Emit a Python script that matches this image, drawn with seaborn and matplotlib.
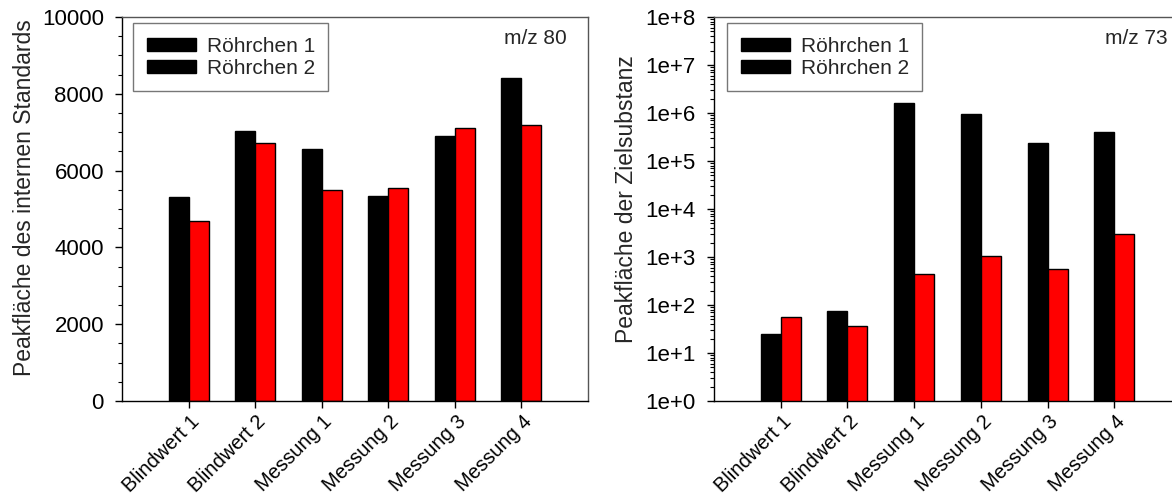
import numpy as np
import pandas as pd
import matplotlib
matplotlib.use("Agg")
import matplotlib.pyplot as plt
import matplotlib.transforms as mtransforms
from matplotlib.patches import Patch
from matplotlib.ticker import MultipleLocator, LogLocator, FuncFormatter, NullFormatter
import seaborn as sns

categories = ["Blindwert 1", "Blindwert 2", "Messung 1", "Messung 2", "Messung 3", "Messung 4"]
series_names = ["Röhrchen 1", "Röhrchen 2"]
mz80_r1 = [5300, 7030, 6570, 5350, 6890, 8400]
mz80_r2 = [4700, 6710, 5490, 5540, 7120, 7200]
mz73_r1 = [25, 76, 1.59e6, 9.5e5, 2.34e5, 4.0e5]
mz73_r2 = [55, 37, 436, 1070, 554, 2970]
ylabel_left = "Peakfläche des internen Standards"
ylabel_right = "Peakfläche der Zielsubstanz"
tag_left = "m/z 80"
tag_right = "m/z 73"

def long_df(a, b):
    return pd.DataFrame({
        "Probe": categories * 2,
        "Röhrchen": [series_names[0]] * len(categories) + [series_names[1]] * len(categories),
        "Wert": list(a) + list(b),
    })

sns.set_theme(style="white")
plt.rcParams["font.family"] = ["Liberation Sans", "DejaVu Sans"]
FS_Y = 16
FS_X = 14.5
FS_LEG = 15
FS_LAB = 16.5

W, H = 1172, 498
fig = plt.figure(figsize=(W / 100, H / 100), dpi=100)
ax1 = fig.add_axes([122 / W, 1 - 401 / H, 466 / W, 384 / H])
ax2 = fig.add_axes([714 / W, 1 - 401 / H, 467 / W, 384 / H])

palette = ["black", "red"]
shift = mtransforms.ScaledTranslation(1 / 100, 2 / 100, fig.dpi_scale_trans)

for ax, a, b, log, legx in [(ax1, mz80_r1, mz80_r2, False, 11 / 466),
                            (ax2, mz73_r1, mz73_r2, True, 13 / 467)]:
    if log:
        ax.set_yscale("log")
    sns.barplot(data=long_df(a, b), x="Probe", y="Wert", hue="Röhrchen",
                palette=palette, edgecolor="black", linewidth=1.0, width=0.6,
                ax=ax, legend=False, saturation=1)
    ax.set_xlabel("")
    for s in ax.spines.values():
        s.set_visible(True)
        s.set_color("#555555")
        s.set_linewidth(1.0)
    ax.spines["left"].set_color("black")
    ax.spines["bottom"].set_color("black")
    ax.tick_params(axis="both", which="both", direction="out", colors="black",
                   left=True, bottom=True)
    ax.tick_params(axis="y", which="major", length=5, width=1, labelsize=FS_Y, pad=8)
    ax.tick_params(axis="y", which="minor", length=3, width=0.8)
    ax.tick_params(axis="x", which="major", length=5, width=1, labelsize=FS_X, pad=4)
    ax.set_xticks(range(len(categories)))
    ax.set_xticklabels(categories, rotation=45, ha="right", rotation_mode="anchor")
    for lbl in ax.get_xticklabels():
        lbl.set_transform(lbl.get_transform() + shift)
    handles = [Patch(facecolor="black", edgecolor="black", label=n) for n in series_names]
    leg = ax.legend(handles=handles, loc="upper left", bbox_to_anchor=(legx, 1 - 6 / 384),
                    fontsize=FS_LEG, frameon=True, fancybox=False, handlelength=2.35,
                    handleheight=0.58, borderpad=0.65, labelspacing=0.15, handletextpad=0.53,
                    borderaxespad=0)
    leg.get_frame().set_edgecolor("#555555")
    leg.get_frame().set_linewidth(1.0)

ax1.set_xlim(-1, 6)
ax1.set_ylim(0, 10000)
ax1.yaxis.set_major_locator(MultipleLocator(2000))
ax1.yaxis.set_minor_locator(MultipleLocator(500))
ax1.set_ylabel(ylabel_left, fontsize=FS_LAB)
ax1.yaxis.set_label_coords(-0.1845, 0.53)
ax1.text(0.888, 0.945, tag_left, transform=ax1.transAxes, ha="center", va="center", fontsize=FS_LEG)

ax2.set_xlim(-1, 6)
ax2.set_ylim(1, 1e8)
ax2.yaxis.set_major_locator(LogLocator(base=10, numticks=20))
ax2.yaxis.set_minor_locator(LogLocator(base=10, subs=np.arange(2, 10), numticks=20))
ax2.yaxis.set_minor_formatter(NullFormatter())
ax2.yaxis.set_major_formatter(FuncFormatter(lambda v, p: f"1e+{int(round(np.log10(v)))}"))
ax2.set_ylabel(ylabel_right, fontsize=FS_LAB)
ax2.yaxis.set_label_coords(-0.163, 0.526)
ax2.text(0.904, 0.945, tag_right, transform=ax2.transAxes, ha="center", va="center", fontsize=FS_LEG)

fig.savefig("out.png", dpi=100)
